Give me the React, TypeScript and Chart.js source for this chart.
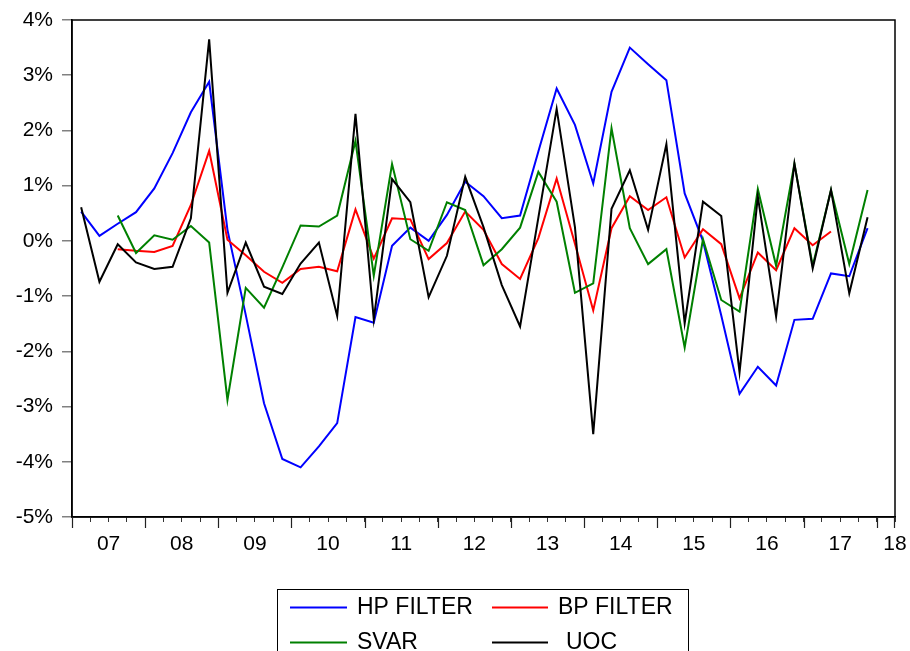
import React, { useEffect, useRef } from "react";
import { Chart, registerables } from "chart.js";

Chart.register(...registerables);

const quarters = [
  "2007Q1","2007Q2","2007Q3","2007Q4","2008Q1","2008Q2","2008Q3","2008Q4",
  "2009Q1","2009Q2","2009Q3","2009Q4","2010Q1","2010Q2","2010Q3","2010Q4",
  "2011Q1","2011Q2","2011Q3","2011Q4","2012Q1","2012Q2","2012Q3","2012Q4",
  "2013Q1","2013Q2","2013Q3","2013Q4","2014Q1","2014Q2","2014Q3","2014Q4",
  "2015Q1","2015Q2","2015Q3","2015Q4","2016Q1","2016Q2","2016Q3","2016Q4",
  "2017Q1","2017Q2","2017Q3","2017Q4",
];

const yearLabels = ["07","08","09","10","11","12","13","14","15","16","17","18"];

const hpFilter = [
  0.53, 0.09, 0.31, 0.52, 0.95, 1.59, 2.33, 2.88, 0.2, -1.34, -2.94, -3.95,
  -4.1, -3.72, -3.3, -1.38, -1.48, -0.09, 0.24, 0.0, 0.47, 1.07, 0.81, 0.41,
  0.46, 1.62, 2.76, 2.1, 1.04, 2.7, 3.5, 3.2, 2.91, 0.86, 0.0, -1.35,
  -2.77, -2.28, -2.62, -1.43, -1.41, -0.59, -0.64, 0.23,
];

const bpFilter = [
  null, null, -0.15, -0.18, -0.2, -0.09, 0.65, 1.63, 0.02, -0.26, -0.56, -0.76,
  -0.51, -0.47, -0.55, 0.57, -0.32, 0.41, 0.39, -0.33, -0.04, 0.53, 0.2, -0.42,
  -0.69, 0.05, 1.13, -0.05, -1.26, 0.23, 0.81, 0.56, 0.79, -0.3, 0.21, -0.06,
  -1.04, -0.21, -0.53, 0.23, -0.08, 0.17, null, null,
];

const svar = [
  null, null, 0.46, -0.22, 0.1, 0.02, 0.27, -0.03, -2.88, -0.85, -1.21, -0.48,
  0.28, 0.26, 0.46, 1.81, -0.63, 1.39, 0.03, -0.18, 0.7, 0.56, -0.44, -0.15,
  0.24, 1.25, 0.71, -0.94, -0.77, 2.04, 0.23, -0.42, -0.15, -1.93, 0.03, -1.07,
  -1.28, 0.94, -0.45, 1.4, -0.45, 0.92, -0.42, 0.92,
];

const uoc = [
  0.61, -0.74, -0.06, -0.39, -0.51, -0.47, 0.41, 3.65, -0.94, -0.03, -0.83, -0.96,
  -0.41, -0.03, -1.36, 2.3, -1.42, 1.12, 0.7, -1.02, -0.27, 1.16, 0.25, -0.8,
  -1.55, 0.42, 2.39, 0.25, -3.5, 0.58, 1.28, 0.2, 1.75, -1.49, 0.71, 0.45,
  -2.38, 0.8, -1.37, 1.4, -0.5, 0.92, -0.95, 0.43,
];

const seriesNames = ["HP FILTER", "BP FILTER", "SVAR", "UOC"];
const seriesColors = ["#0000FF", "#FF0000", "#008000", "#000000"];

const FONT = "'Liberation Sans', Arial, Helvetica, sans-serif";

function toPoints(values: (number | null)[]) {
  return values.map((v, i) => ({ x: i + 0.5, y: v }));
}

const framePlugin = {
  id: "frameAndLegend",
  afterDraw(chart: any) {
    const { ctx, chartArea } = chart;
    const xs = chart.scales.x;
    ctx.save();
    ctx.strokeStyle = "#000";
    ctx.lineWidth = 1.5;
    ctx.strokeRect(chartArea.left, chartArea.top, chartArea.right - chartArea.left, chartArea.bottom - chartArea.top);
    ctx.lineWidth = 1.2;
    ctx.strokeStyle = "#222";
    const nQ = quarters.length + 1;
    for (let v = 0; v < nQ; v += 4) {
      const px = Math.round(xs.getPixelForValue(v)) + 0.5;
      ctx.beginPath();
      ctx.moveTo(px, chartArea.bottom);
      ctx.lineTo(px, chartArea.bottom + 11);
      ctx.stroke();
    }
    {
      const px = Math.round(xs.getPixelForValue(nQ)) - 0.5;
      ctx.beginPath();
      ctx.moveTo(px, chartArea.bottom);
      ctx.lineTo(px, chartArea.bottom + 11);
      ctx.stroke();
    }
    const bx = 277.5, by = 589.5, bw = 411, bh = 80;
    ctx.strokeStyle = "#000";
    ctx.lineWidth = 1;
    ctx.strokeRect(bx, by, bw, bh);
    const cols = [
      { lx0: 290, lx1: 347, tx: 357 },
      { lx0: 492, lx1: 548, tx: 558 },
    ];
    const rows = [607, 642];
    ctx.font = `23px ${FONT}`;
    ctx.textBaseline = "middle";
    ctx.textAlign = "left";
    seriesNames.forEach((name, k) => {
      const c = cols[k % 2];
      const ry = rows[Math.floor(k / 2)];
      ctx.strokeStyle = seriesColors[k];
      ctx.lineWidth = 2;
      ctx.beginPath();
      ctx.moveTo(c.lx0, ry + 0.5);
      ctx.lineTo(c.lx1, ry + 0.5);
      ctx.stroke();
      ctx.fillStyle = "#000";
      ctx.fillText(name, k === 3 ? c.tx + 8 : c.tx, ry + 1);
    });
    ctx.restore();
  },
};

export default function App() {
  const canvasRef = useRef<HTMLCanvasElement | null>(null);

  useEffect(() => {
    if (!canvasRef.current) return;
    Chart.defaults.font.family = FONT;
    const seriesData = [hpFilter, bpFilter, svar, uoc];
    const chart = new Chart(canvasRef.current, {
      type: "line",
      data: {
        datasets: seriesData.map((vals, k) => ({
          label: seriesNames[k],
          data: toPoints(vals),
          borderColor: seriesColors[k],
          backgroundColor: seriesColors[k],
          borderWidth: 2,
          pointRadius: 0,
          tension: 0,
          fill: false,
          spanGaps: false,
          order: 3 - k,
        })),
      },
      options: {
        animation: false,
        responsive: true,
        maintainAspectRatio: false,
        devicePixelRatio: 1,
        layout: { padding: { left: 0, right: 15, top: 20, bottom: 0 } },
        plugins: {
          legend: { display: false },
          tooltip: { enabled: false },
          title: { display: false },
        },
        scales: {
          x: {
            type: "linear",
            min: 0,
            max: quarters.length + 1,
            afterBuildTicks: (scale: any) => {
              const t = [];
              for (let i = 0; i <= quarters.length + 1; i++) t.push({ value: i });
              scale.ticks = t;
            },
            afterFit: (scale: any) => {
              scale.height = 134;
              scale.paddingLeft = 0;
              scale.paddingRight = 0;
            },
            ticks: {
              autoSkip: false,
              maxRotation: 0,
              minRotation: 0,
              padding: 10,
              color: "#000",
              font: { size: 21, family: FONT },
              callback: (value: any) => {
                const v = Number(value);
                if (v === quarters.length + 1) return yearLabels[yearLabels.length - 1];
                if ((v - 2) % 4 === 0) {
                  const idx = (v - 2) / 4;
                  return yearLabels[idx] ?? "";
                }
                return "";
              },
            },
            grid: {
              drawOnChartArea: false,
              drawTicks: true,
              tickLength: 5,
              color: "#333",
              lineWidth: 1,
            },
            border: { display: true, color: "#000", width: 1.5 },
          },
          y: {
            min: -5,
            max: 4,
            afterFit: (scale: any) => {
              scale.width = 72;
              scale.paddingTop = 0;
              scale.paddingBottom = 0;
            },
            ticks: {
              stepSize: 1,
              padding: 9,
              color: "#000",
              font: { size: 21, family: FONT },
              callback: (value: any) => `${value}%`,
            },
            grid: {
              drawOnChartArea: false,
              drawTicks: true,
              tickLength: 10,
              color: "#808080",
              lineWidth: 1.5,
            },
            border: { display: true, color: "#000", width: 1.5 },
          },
        },
      },
      plugins: [framePlugin],
    });
    return () => chart.destroy();
  }, []);

  return (
    <div style={{ position: "absolute", left: 0, top: 0, width: 910, height: 651, background: "#fff" }}>
      <canvas ref={canvasRef} width={910} height={651} />
    </div>
  );
}
